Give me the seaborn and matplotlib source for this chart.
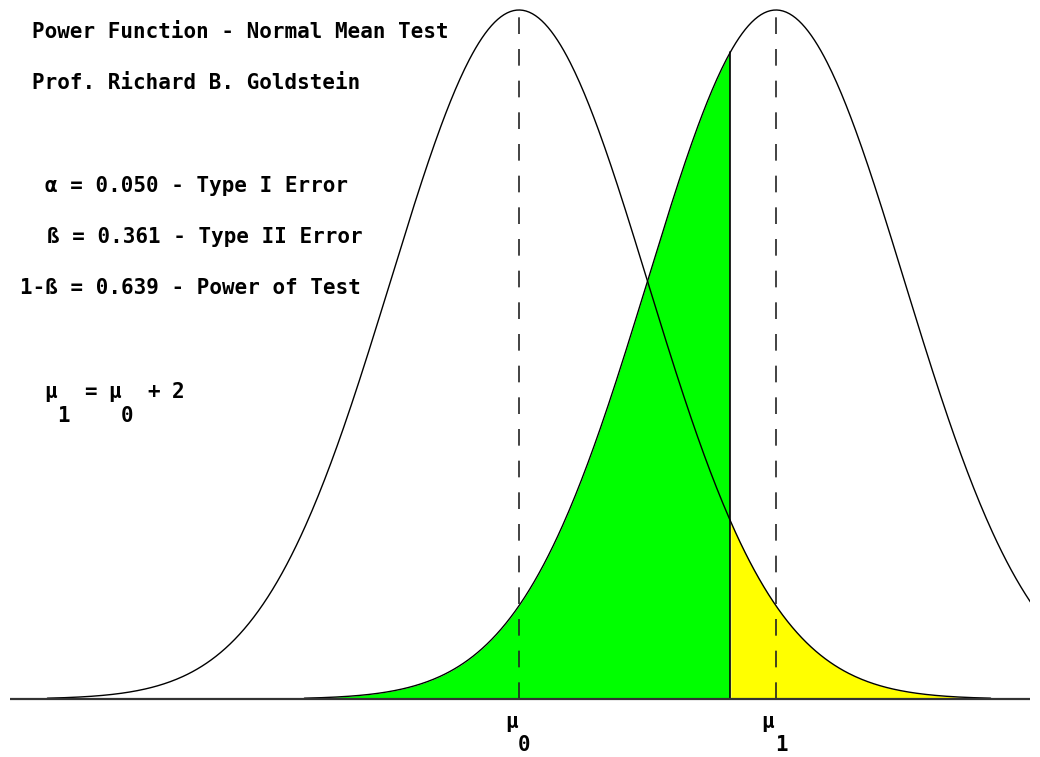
import matplotlib
matplotlib.use("Agg")
import matplotlib.pyplot as plt
import seaborn as sns
import pandas as pd
import numpy as np

sns.set_theme(style="white")
plt.rcParams['font.family'] = ['DejaVu Sans Mono', 'DejaVu Sans']

# test setup (in units of sigma)
mu0 = 0.0
mu1 = 2.0
z_crit = 1.645
half_span = 3.67
alpha_txt = "0.050"
beta_txt = "0.361"
power_txt = "0.639"

xs0 = np.linspace(mu0 - half_span, mu0 + half_span, 600)
xs1 = np.linspace(mu1 - half_span, mu1 + half_span, 600)
h0 = pd.DataFrame({'x': xs0, 'y': np.exp(-0.5 * (xs0 - mu0) ** 2)})
h1 = pd.DataFrame({'x': xs1, 'y': np.exp(-0.5 * (xs1 - mu1) ** 2)})

fig = plt.figure(figsize=(10.4, 7.57), dpi=100)
ax = fig.add_axes([10 / 1040, 0, 1020 / 1040, 1])

# shaded regions
left1 = h1[h1['x'] <= z_crit]
right0 = h0[h0['x'] >= z_crit]
ax.fill_between(left1['x'], 0, left1['y'], color='#00ff00', lw=0)
ax.fill_between(right0['x'], 0, right0['y'], color='#ffff00', lw=0)

sns.lineplot(data=h0, x='x', y='y', ax=ax, color='black', lw=1, sort=False)
sns.lineplot(data=h1, x='x', y='y', ax=ax, color='black', lw=1, sort=False)

# critical value line
yc = np.exp(-0.5 * (z_crit - mu1) ** 2)
ax.plot([z_crit, z_crit], [0, yc], color='black', lw=1.2)

# mean lines
for m in (mu0, mu1):
    ax.plot([m, m], [0, 1], color='#222222', lw=1.2, linestyle=(0, (10, 9)))

ax.axhline(0, color='#333333', lw=1.6)

ax.set_xlim((10 - 519) / 128.5, (1030 - 519) / 128.5)
ax.set_ylim(-58 / 689, 1 + 10 / 689)
ax.axis('off')

def put(px, py, s, ha='left'):
    fig.text(px / 1040, 1 - py / 757, s, ha=ha, va='center',
             fontsize=15, fontweight='bold', color='black')

put(32, 32, "Power Function - Normal Mean Test")
put(32, 83, "Prof. Richard B. Goldstein")
put(45, 186, "α = " + alpha_txt + " - Type I Error")
put(47, 237, "ß = " + beta_txt + " - Type II Error")
put(20, 288, "1-ß = " + power_txt + " - Power of Test")

put(51, 392, "μ", ha='center')
put(90, 392, "=", ha='center')
put(115, 392, "μ", ha='center')
put(154, 392, "+", ha='center')
put(178, 392, "2", ha='center')
put(63, 416, "1", ha='center')
put(127, 416, "0", ha='center')

put(512, 722, "μ", ha='center')
put(524, 745, "0", ha='center')
put(768, 722, "μ", ha='center')
put(781, 745, "1", ha='center')

plt.savefig('out.png', dpi=100)
